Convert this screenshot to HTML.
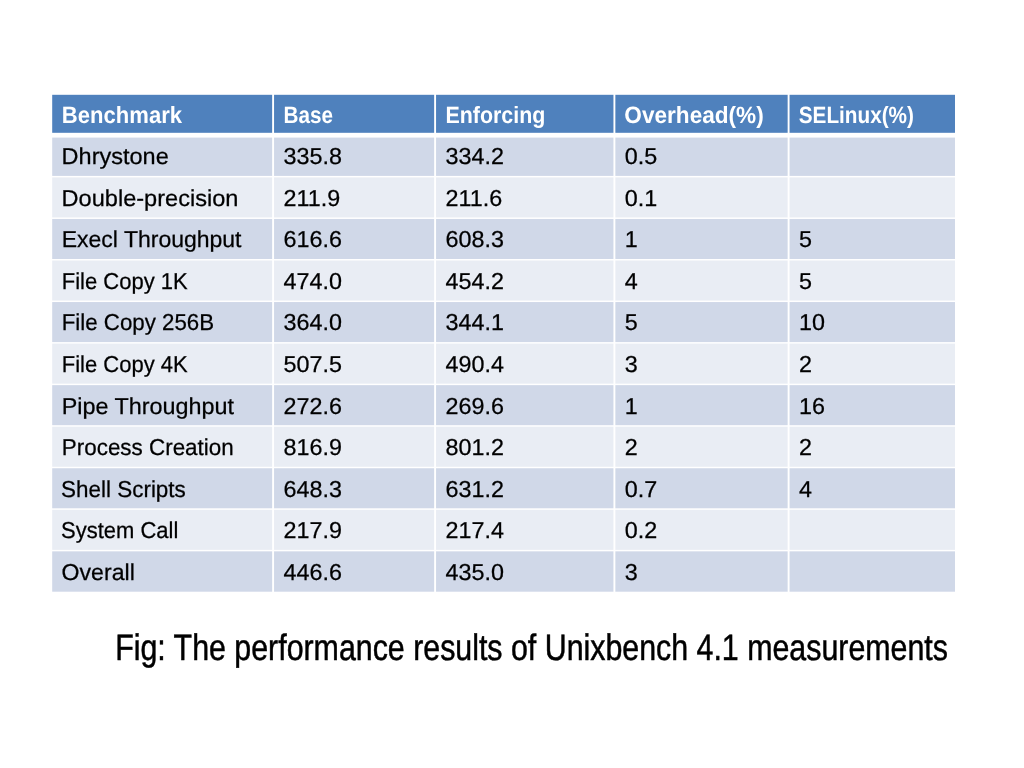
<!DOCTYPE html>
<html lang="en">
<head>
<meta charset="utf-8">
<title>Unixbench 4.1 performance results</title>
<style>
html,body{margin:0;padding:0;background:#fff;}
body{width:1024px;height:768px;overflow:hidden;}
.slide{position:relative;width:1024px;height:768px;overflow:hidden;background:#fff;font-family:"Liberation Sans",sans-serif;color:#000;}
.bg{position:absolute;left:0;top:0;width:1024px;height:768px;display:block;}
table.bench{position:absolute;left:0;top:0;width:1024px;height:768px;display:block;margin:0;padding:0;border:0;border-collapse:collapse;}
table.bench thead,table.bench tbody{display:block;margin:0;padding:0;}
table.bench tr{display:block;position:absolute;left:0;top:0;width:1024px;height:0;margin:0;padding:0;}
table.bench th,table.bench td{display:block;position:absolute;left:0;top:0;width:0;height:0;margin:0;padding:0;border:0;text-align:left;font-weight:normal;}
table.bench span,.caption span{display:block;position:absolute;left:0;top:0;white-space:nowrap;line-height:1;transform-origin:0 0;text-rendering:geometricPrecision;}
table.bench td span{font-size:23px;color:#000;-webkit-text-stroke:0.25px #000;}
table.bench th span{font-size:23.5px;font-weight:bold;color:#fff;}
.caption{position:absolute;left:0;top:0;margin:0;padding:0;width:1024px;height:0;}
.caption span{font-size:36.8px;color:#000;-webkit-text-stroke:0.5px #000;}
</style>
</head>
<body>
<div class="slide">
<svg class="bg" width="1024" height="768" viewBox="0 0 1024 768" aria-hidden="true">
<rect x="0" y="0" width="1024" height="768" fill="#ffffff"/>
<rect x="52.2" y="94.8" width="902.8" height="38" fill="#4f81bd"/>
<rect x="52.2" y="137.6" width="902.8" height="38.3" fill="#d0d8e8"/>
<rect x="52.2" y="177.4" width="902.8" height="40.05" fill="#e9edf4"/>
<rect x="52.2" y="218.95" width="902.8" height="40.05" fill="#d0d8e8"/>
<rect x="52.2" y="260.5" width="902.8" height="40.05" fill="#e9edf4"/>
<rect x="52.2" y="302.05" width="902.8" height="40.05" fill="#d0d8e8"/>
<rect x="52.2" y="343.6" width="902.8" height="40.05" fill="#e9edf4"/>
<rect x="52.2" y="385.15" width="902.8" height="40.05" fill="#d0d8e8"/>
<rect x="52.2" y="426.7" width="902.8" height="40.05" fill="#e9edf4"/>
<rect x="52.2" y="468.25" width="902.8" height="40.05" fill="#d0d8e8"/>
<rect x="52.2" y="509.8" width="902.8" height="40.05" fill="#e9edf4"/>
<rect x="52.2" y="551.35" width="902.8" height="40.35" fill="#d0d8e8"/>
<rect x="272.15" y="93.8" width="1.9" height="498.9" fill="#ffffff"/>
<rect x="434.15" y="93.8" width="1.9" height="498.9" fill="#ffffff"/>
<rect x="613.45" y="93.8" width="1.9" height="498.9" fill="#ffffff"/>
<rect x="787.65" y="93.8" width="1.9" height="498.9" fill="#ffffff"/>
</svg>
<table class="bench">
<thead>
<tr>
<th><span style="transform:translate(61.85px,104px) scaleX(0.9387)">Benchmark</span></th>
<th><span style="transform:translate(283.48px,104px) scaleX(0.88)">Base</span></th>
<th><span style="transform:translate(445.43px,104px) scaleX(0.9108)">Enforcing</span></th>
<th><span style="transform:translate(624.33px,104px) scaleX(0.9615)">Overhead(%)</span></th>
<th><span style="transform:translate(798.72px,104px) scaleX(0.8826)">SELinux(%)</span></th>
</tr>
</thead>
<tbody>
<tr>
<td><span style="transform:translate(61.61px,145px) scaleX(1.0216)">Dhrystone</span></td>
<td><span style="transform:translate(283.48px,145px) scaleX(1.0144)">335.8</span></td>
<td><span style="transform:translate(445.48px,145px) scaleX(1.0144)">334.2</span></td>
<td><span style="transform:translate(624.78px,145px) scaleX(1.0144)">0.5</span></td>
<td></td>
</tr>
<tr>
<td><span style="transform:translate(61.6px,187px) scaleX(1.0245)">Double-precision</span></td>
<td><span style="transform:translate(283.48px,187px) scaleX(1.0144)">211.9</span></td>
<td><span style="transform:translate(445.48px,187px) scaleX(1.0144)">211.6</span></td>
<td><span style="transform:translate(624.78px,187px) scaleX(1.0144)">0.1</span></td>
<td></td>
</tr>
<tr>
<td><span style="transform:translate(61.7px,228px) scaleX(0.9997)">Execl Throughput</span></td>
<td><span style="transform:translate(283.48px,228px) scaleX(1.0144)">616.6</span></td>
<td><span style="transform:translate(445.48px,228px) scaleX(1.0144)">608.3</span></td>
<td><span style="transform:translate(624.78px,228px) scaleX(1.0144)">1</span></td>
<td><span style="transform:translate(798.98px,228px) scaleX(1.0144)">5</span></td>
</tr>
<tr>
<td><span style="transform:translate(61.73px,270px) scaleX(0.9571)">File Copy 1K</span></td>
<td><span style="transform:translate(283.48px,270px) scaleX(1.0144)">474.0</span></td>
<td><span style="transform:translate(445.48px,270px) scaleX(1.0144)">454.2</span></td>
<td><span style="transform:translate(624.78px,270px) scaleX(1.0144)">4</span></td>
<td><span style="transform:translate(798.98px,270px) scaleX(1.0144)">5</span></td>
</tr>
<tr>
<td><span style="transform:translate(61.71px,311px) scaleX(0.9689)">File Copy 256B</span></td>
<td><span style="transform:translate(283.48px,311px) scaleX(1.0144)">364.0</span></td>
<td><span style="transform:translate(445.48px,311px) scaleX(1.0144)">344.1</span></td>
<td><span style="transform:translate(624.78px,311px) scaleX(1.0144)">5</span></td>
<td><span style="transform:translate(798.98px,311px) scaleX(1.0144)">10</span></td>
</tr>
<tr>
<td><span style="transform:translate(61.73px,353px) scaleX(0.9571)">File Copy 4K</span></td>
<td><span style="transform:translate(283.48px,353px) scaleX(1.0144)">507.5</span></td>
<td><span style="transform:translate(445.48px,353px) scaleX(1.0144)">490.4</span></td>
<td><span style="transform:translate(624.78px,353px) scaleX(1.0144)">3</span></td>
<td><span style="transform:translate(798.98px,353px) scaleX(1.0144)">2</span></td>
</tr>
<tr>
<td><span style="transform:translate(61.72px,395px) scaleX(1.0155)">Pipe Throughput</span></td>
<td><span style="transform:translate(283.48px,395px) scaleX(1.0144)">272.6</span></td>
<td><span style="transform:translate(445.48px,395px) scaleX(1.0144)">269.6</span></td>
<td><span style="transform:translate(624.78px,395px) scaleX(1.0144)">1</span></td>
<td><span style="transform:translate(798.98px,395px) scaleX(1.0144)">16</span></td>
</tr>
<tr>
<td><span style="transform:translate(61.8px,436px) scaleX(0.9746)">Process Creation</span></td>
<td><span style="transform:translate(283.48px,436px) scaleX(1.0144)">816.9</span></td>
<td><span style="transform:translate(445.48px,436px) scaleX(1.0144)">801.2</span></td>
<td><span style="transform:translate(624.78px,436px) scaleX(1.0144)">2</span></td>
<td><span style="transform:translate(798.98px,436px) scaleX(1.0144)">2</span></td>
</tr>
<tr>
<td><span style="transform:translate(61.08px,478px) scaleX(0.9758)">Shell Scripts</span></td>
<td><span style="transform:translate(283.48px,478px) scaleX(1.0144)">648.3</span></td>
<td><span style="transform:translate(445.48px,478px) scaleX(1.0144)">631.2</span></td>
<td><span style="transform:translate(624.78px,478px) scaleX(1.0144)">0.7</span></td>
<td><span style="transform:translate(798.98px,478px) scaleX(1.0144)">4</span></td>
</tr>
<tr>
<td><span style="transform:translate(61.1px,519px) scaleX(0.9555)">System Call</span></td>
<td><span style="transform:translate(283.48px,519px) scaleX(1.0144)">217.9</span></td>
<td><span style="transform:translate(445.48px,519px) scaleX(1.0144)">217.4</span></td>
<td><span style="transform:translate(624.78px,519px) scaleX(1.0144)">0.2</span></td>
<td></td>
</tr>
<tr>
<td><span style="transform:translate(61.6px,561px) scaleX(1.0043)">Overall</span></td>
<td><span style="transform:translate(283.48px,561px) scaleX(1.0144)">446.6</span></td>
<td><span style="transform:translate(445.48px,561px) scaleX(1.0144)">435.0</span></td>
<td><span style="transform:translate(624.78px,561px) scaleX(1.0144)">3</span></td>
<td></td>
</tr>
</tbody>
</table>
<p class="caption"><span style="transform:translate(115.13px,630px) scaleX(0.8248)">Fig: The performance results of Unixbench 4.1 measurements</span></p>
</div>
</body>
</html>
